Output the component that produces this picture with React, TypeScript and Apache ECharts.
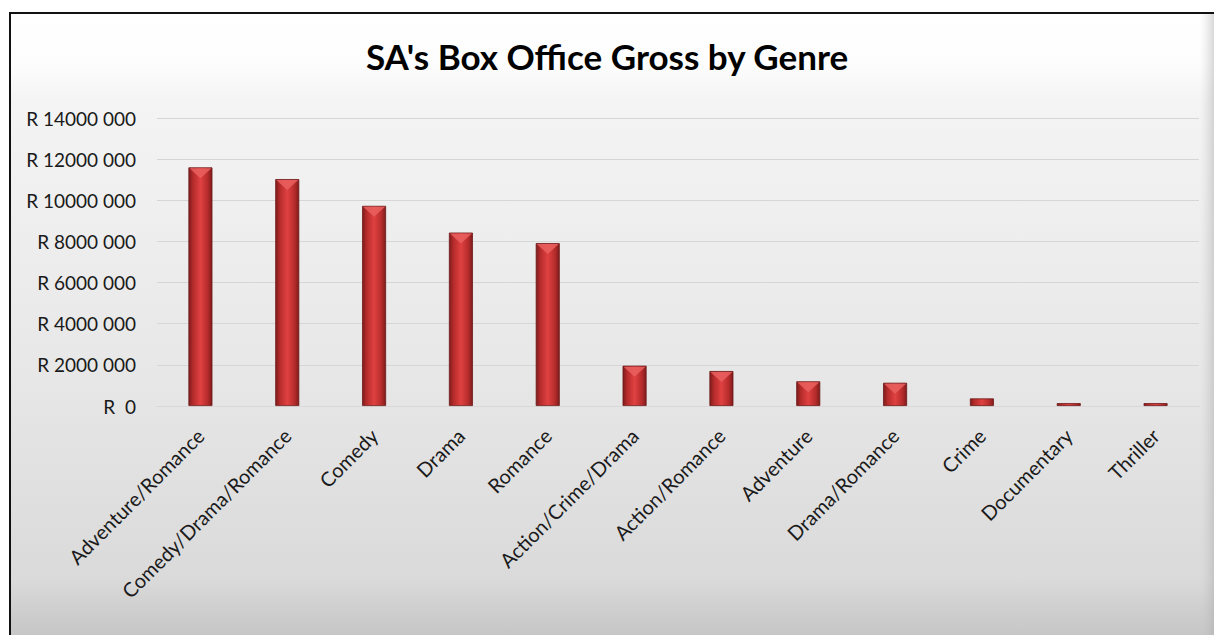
import React, { useEffect, useRef } from "react";
import * as echarts from "echarts";

const genres = [
  "Adventure/Romance",
  "Comedy/Drama/Romance",
  "Comedy",
  "Drama",
  "Romance",
  "Action/Crime/Drama",
  "Action/Romance",
  "Adventure",
  "Drama/Romance",
  "Crime",
  "Documentary",
  "Thriller",
];

const gross = [
  11600000, 11030000, 9730000, 8430000, 7920000, 1960000, 1700000, 1200000,
  1130000, 370000, 140000, 140000,
];

const yTickLabels: Record<number, string> = {
  0: "R  0",
  2000000: "R 2000 000",
  4000000: "R 4000 000",
  6000000: "R 6000 000",
  8000000: "R 8000 000",
  10000000: "R 10000 000",
  12000000: "R 12000 000",
  14000000: "R 14000 000",
};

const FONT = "Lato, 'Open Sans', sans-serif";

export default function App() {
  const ref = useRef<HTMLDivElement>(null);
  useEffect(() => {
    if (!ref.current) return;
    const chart = echarts.init(ref.current, undefined, { renderer: "svg" });
    const barColor = new echarts.graphic.LinearGradient(0, 0, 1, 0, [
      { offset: 0, color: "#7e1c1c" },
      { offset: 0.18, color: "#b52b2b" },
      { offset: 0.5, color: "#e04141" },
      { offset: 0.82, color: "#b52b2b" },
      { offset: 1, color: "#7e1c1c" },
    ]);
    const bevelData = gross.map((v) => (v > 500000 ? v : "-"));
    chart.setOption({
      animation: false,
      graphic: [
        {
          type: "rect",
          z: -10,
          silent: true,
          shape: { x: 10, y: 13, width: 1220, height: 630 },
          style: {
            fill: new echarts.graphic.LinearGradient(0, 0, 0, 1, [
              { offset: 0, color: "#ffffff" },
              { offset: 0.08, color: "#fdfdfd" },
              { offset: 0.14, color: "#f4f4f4" },
              { offset: 0.55, color: "#e8e8e8" },
              { offset: 0.9, color: "#dadada" },
              { offset: 0.95, color: "#cecece" },
              { offset: 1, color: "#c4c4c4" },
            ]),
            stroke: "#111111",
            lineWidth: 2,
          },
        },
        {
          type: "rect",
          z: -9,
          silent: true,
          shape: { x: 1200, y: 14, width: 14, height: 621 },
          style: {
            fill: new echarts.graphic.LinearGradient(0, 0, 1, 0, [
              { offset: 0, color: "rgba(200,200,200,0)" },
              { offset: 1, color: "rgba(170,170,170,0.45)" },
            ]),
          },
        },
      ],
      title: {
        text: "SA's Box Office Gross by Genre",
        left: "center",
        top: 33,
        textStyle: {
          fontFamily: FONT,
          fontWeight: "bold",
          fontSize: 35,
          color: "#000000",
        },
      },
      grid: {
        left: 157,
        right: 15,
        top: 118,
        bottom: 229,
        containLabel: false,
      },
      xAxis: {
        type: "category",
        data: genres,
        axisLine: { show: true, lineStyle: { color: "#d8d8d8", width: 1 } },
        axisTick: { show: false },
        axisLabel: {
          rotate: 45,
          interval: 0,
          fontFamily: FONT,
          fontSize: 20,
          color: "#1a1a1a",
          margin: 26,
        },
      },
      yAxis: {
        type: "value",
        min: 0,
        max: 14000000,
        interval: 2000000,
        axisLine: { show: false },
        axisTick: { show: false },
        splitLine: { lineStyle: { color: "#d6d6d6", width: 1 } },
        axisLabel: {
          fontFamily: FONT,
          fontSize: 19,
          color: "#1a1a1a",
          margin: 21,
          formatter: (v: number) => yTickLabels[v] ?? String(v),
        },
      },
      series: [
        {
          type: "bar",
          data: gross,
          barWidth: 24,
          barGap: "-100%",
          itemStyle: {
            color: barColor,
            borderColor: "#6e1818",
            borderWidth: 0.8,
          },
        },
        {
          type: "pictorialBar",
          data: bevelData,
          symbol: "triangle",
          symbolRotate: 180,
          symbolSize: [22, 10],
          symbolPosition: "end",
          symbolOffset: [0, 1],
          z: 3,
          silent: true,
          itemStyle: { color: "#ea6060", opacity: 0.85 },
        },
      ],
    });
    return () => chart.dispose();
  }, []);
  return (
    <div
      ref={ref}
      style={{ position: "absolute", left: 0, top: 0, width: 1214, height: 635 }}
    />
  );
}
